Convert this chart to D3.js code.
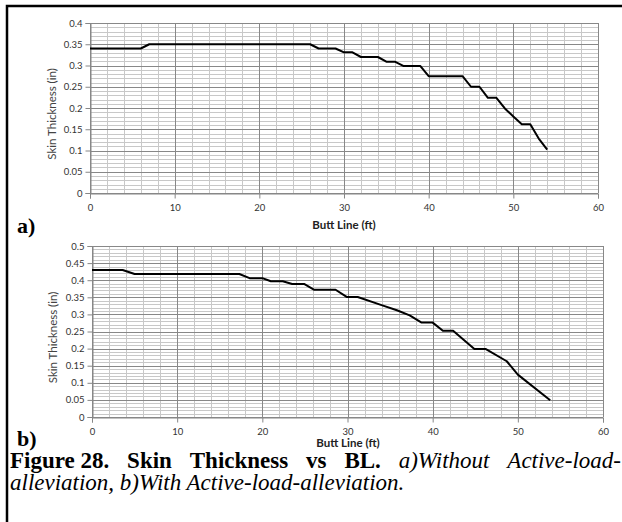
<!DOCTYPE html>
<html>
<head>
<meta charset="utf-8">
<script src="https://cdn.jsdelivr.net/npm/d3@7"></script>
<style>
  body { margin: 0; background: #fff; }
  svg { display: block; }
</style>
</head>
<body>
<svg id="fig" width="622" height="522"></svg>
<script>
// butt line (ft) and skin thickness (in), without active-load-alleviation
var blA = [0, 6, 7, 26, 27, 29, 30, 31, 32, 34, 35, 36, 37, 39, 40, 44, 45, 46, 47, 48, 49, 50, 51, 52, 53, 54];
var thickA = [0.34, 0.34, 0.35, 0.35, 0.34, 0.34, 0.331, 0.331, 0.32, 0.32, 0.309, 0.309, 0.299, 0.299, 0.275, 0.275, 0.25, 0.25, 0.224, 0.224, 0.199, 0.18, 0.162, 0.162, 0.128, 0.102];

// with active-load-alleviation
var blB = [0, 3.6, 5, 17.3, 18.5, 20, 21, 22.4, 23.5, 24.9, 26.1, 28.6, 29.9, 31.2, 34, 35.8, 37.3, 38.7, 40, 41.2, 42.4, 44.9, 46.2, 48.7, 50, 53.8];
var thickB = [0.43, 0.43, 0.418, 0.418, 0.406, 0.406, 0.397, 0.397, 0.389, 0.389, 0.372, 0.372, 0.351, 0.351, 0.327, 0.312, 0.297, 0.276, 0.276, 0.252, 0.252, 0.199, 0.199, 0.163, 0.124, 0.049];

var xTicks = [0, 10, 20, 30, 40, 50, 60];
var yTicksA = [0, 0.05, 0.1, 0.15, 0.2, 0.25, 0.3, 0.35, 0.4];
var yTicksB = [0, 0.05, 0.1, 0.15, 0.2, 0.25, 0.3, 0.35, 0.4, 0.45, 0.5];

var svg = d3.select("#fig");

// outer frame (left and top rules)
svg.append("path")
  .attr("d", "M7,522 V6 H622")
  .attr("fill", "none")
  .attr("stroke", "#000")
  .attr("stroke-width", 2.5);

function drawChart(opts) {
  var x = d3.scaleLinear().domain([0, 60]).range([opts.left, opts.right]);
  var y = d3.scaleLinear().domain([0, opts.ymax]).range([opts.bottom, opts.top]);
  var g = svg.append("g");

  // minor gridlines: every 2 ft and every 0.01 in
  var xMinor = d3.range(0, 61, 2);
  var yMinor = d3.range(0, Math.round(opts.ymax / 0.01) + 1).map(function(i) { return i * 0.01; });

  g.selectAll(".hminor").data(yMinor).enter().append("line")
    .attr("x1", opts.left).attr("x2", opts.right)
    .attr("y1", function(d) { return Math.round(y(d)) + 0.5; })
    .attr("y2", function(d) { return Math.round(y(d)) + 0.5; })
    .attr("stroke", "#c8c8c8").attr("stroke-width", 1);

  g.selectAll(".vminor").data(xMinor).enter().append("line")
    .attr("x1", function(d) { return Math.round(x(d)) + 0.5; })
    .attr("x2", function(d) { return Math.round(x(d)) + 0.5; })
    .attr("y1", opts.top).attr("y2", opts.bottom)
    .attr("stroke", "#c8c8c8").attr("stroke-width", 1);

  // major gridlines
  g.selectAll(".hmajor").data(opts.yTicks).enter().append("line")
    .attr("x1", opts.left).attr("x2", opts.right)
    .attr("y1", function(d) { return Math.round(y(d)) + 0.5; })
    .attr("y2", function(d) { return Math.round(y(d)) + 0.5; })
    .attr("stroke", "#888").attr("stroke-width", 1);

  g.selectAll(".vmajor").data(xTicks).enter().append("line")
    .attr("x1", function(d) { return Math.round(x(d)) + 0.5; })
    .attr("x2", function(d) { return Math.round(x(d)) + 0.5; })
    .attr("y1", opts.top).attr("y2", opts.bottom)
    .attr("stroke", "#888").attr("stroke-width", 1);

  // axes
  var xAxis = d3.axisBottom(x).tickValues(xTicks).tickSize(5).tickFormat(d3.format("d"));
  var yAxis = d3.axisLeft(y).tickValues(opts.yTicks).tickSize(5)
    .tickFormat(function(d) { return d === 0 ? "0" : String(+d.toFixed(2)); });

  var gx = g.append("g").attr("transform", "translate(0," + (Math.round(opts.bottom) + 0.5) + ")").call(xAxis);
  var gy = g.append("g").attr("transform", "translate(" + (Math.round(opts.left) + 0.5) + ",0)").call(yAxis);

  [gx, gy].forEach(function(a) {
    a.select(".domain").attr("stroke", "#868686");
    a.selectAll(".tick line").attr("stroke", "#868686");
    a.selectAll(".tick text")
      .attr("font-family", "Lato, 'Open Sans', sans-serif")
      .attr("font-size", 9.5)
      .attr("fill", "#333");
  });
  gx.selectAll(".tick text").attr("dy", "0.71em").attr("y", 11);
  gy.selectAll(".tick text").attr("x", -8);

  // thickness line
  var pts = opts.bl.map(function(d, i) { return [d, opts.thick[i]]; });
  var line = d3.line()
    .x(function(d) { return x(d[0]); })
    .y(function(d) { return y(d[1]); });

  g.append("path")
    .datum(pts)
    .attr("d", line)
    .attr("fill", "none")
    .attr("stroke", "#000")
    .attr("stroke-width", 2)
    .attr("stroke-linejoin", "round");

  // axis titles
  g.append("text")
    .attr("x", opts.xTitleX).attr("y", opts.xTitleY)
    .attr("text-anchor", "middle")
    .attr("font-family", "Lato, 'Open Sans', sans-serif")
    .attr("font-weight", "bold")
    .attr("font-size", 11.5)
    .attr("fill", "#222")
    .text("Butt Line (ft)");

  g.append("text")
    .attr("transform", "translate(" + opts.yTitleX + "," + ((opts.top + opts.bottom) / 2 + 6) + ") rotate(-90)")
    .attr("text-anchor", "middle")
    .attr("font-family", "Lato, 'Open Sans', sans-serif")
    .attr("font-size", 11.5)
    .attr("fill", "#444")
    .text("Skin Thickness (in)");

  // panel letter
  g.append("text")
    .attr("x", 17).attr("y", opts.letterY)
    .attr("font-family", "'Liberation Serif', 'Times New Roman', serif")
    .attr("font-weight", "bold")
    .attr("font-size", 22)
    .attr("fill", "#000")
    .text(opts.letter);
}

drawChart({
  left: 90, right: 598, top: 23, bottom: 193, ymax: 0.4,
  yTicks: yTicksA, bl: blA, thick: thickA,
  xTitleX: 344, xTitleY: 229, yTitleX: 56, letter: "a)", letterY: 233
});

drawChart({
  left: 92, right: 603, top: 246, bottom: 417, ymax: 0.5,
  yTicks: yTicksB, bl: blB, thick: thickB,
  xTitleX: 348, xTitleY: 447, yTitleX: 57, letter: "b)", letterY: 446
});

// caption, first line justified across the frame width
var capFont = "'Liberation Serif', 'Times New Roman', serif";
var words = [
  { t: "Figure 28.", b: true }, { t: "Skin", b: true }, { t: "Thickness", b: true },
  { t: "vs", b: true }, { t: "BL.", b: true },
  { t: "a)Without", b: false }, { t: "Active-load-", b: false }
];
var capLeft = 10, capRight = 621, capY1 = 468, capY2 = 490;
var capSize = 23;

var cap = svg.append("g");
var nodes = words.map(function(w) {
  return cap.append("text")
    .attr("y", capY1)
    .attr("font-family", capFont)
    .attr("font-size", capSize)
    .attr("font-weight", w.b ? "bold" : "normal")
    .attr("font-style", w.b ? "normal" : "italic")
    .attr("fill", "#000")
    .text(w.t);
});
var widths = nodes.map(function(n) { return n.node().getComputedTextLength(); });
var gap = Math.max(4, (capRight - capLeft - d3.sum(widths)) / (words.length - 1));
var cx = capLeft;
nodes.forEach(function(n, i) {
  n.attr("x", cx);
  cx += widths[i] + gap;
});

cap.append("text")
  .attr("x", capLeft).attr("y", capY2)
  .attr("font-family", capFont)
  .attr("font-size", capSize)
  .attr("font-style", "italic")
  .attr("fill", "#000")
  .text("alleviation, b)With Active-load-alleviation.");
</script>
</body>
</html>
